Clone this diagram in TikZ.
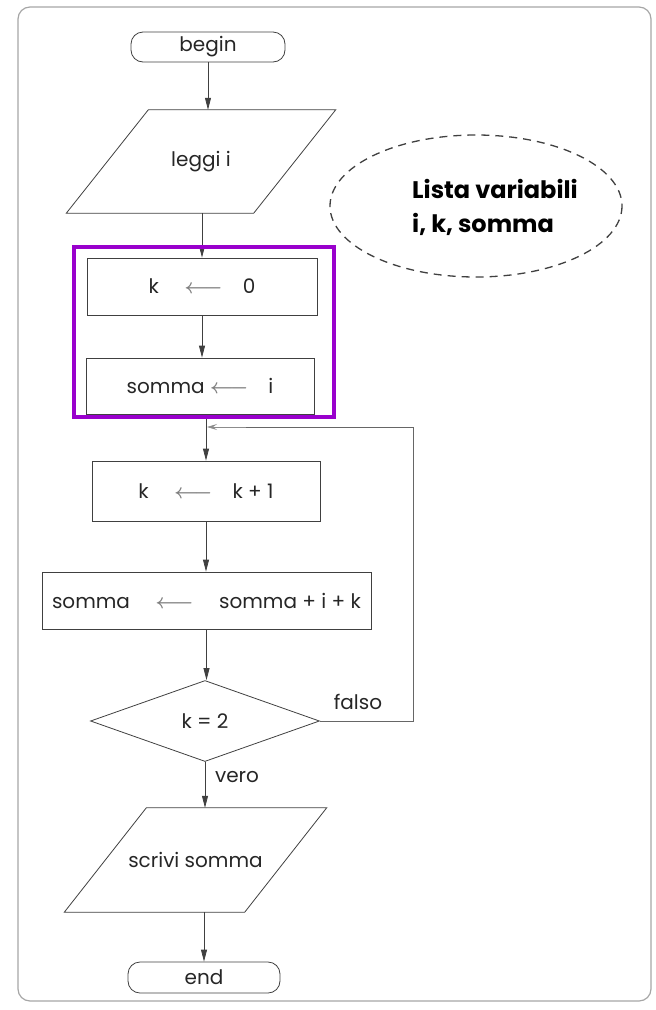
\documentclass[tikz,border=0pt]{standalone}
\usepackage{fontspec}
\setmainfont{Poppins}
\usetikzlibrary{shapes.geometric,arrows.meta}
\newcommand{\assegna}{\textcolor{black!50}{\boldmath$\longleftarrow$}}

\begin{document}
\begin{tikzpicture}%
	[x=1pt, y=-1pt,
	font=\fontsize{20}{24}\selectfont,
	frame/.style={draw=black!35, line width=1.2pt, rounded corners=12pt},
	terminal/.style={draw=black!75, line width=0.8pt, rounded corners=12pt, minimum width=154pt, minimum height=30pt, inner sep=0pt, text=black!85},
	io/.style={rectangle, minimum height=103pt, inner sep=0pt, text=black!85},
	iobox/.style={draw=black!75, line width=0.8pt},
	process/.style={draw=black!75, line width=0.8pt, rectangle, minimum height=57pt, inner sep=0pt, text=black!85},
	decision/.style={draw=black!75, line width=0.8pt, diamond, aspect=2.8, minimum width=229pt, minimum height=81pt, inner sep=0pt, text=black!85},
	lista/.style={inner sep=0pt, align=left, text=black, font=\bfseries\fontsize{24}{34}\selectfont},
	listabordo/.style={draw=black!75, line width=1.3pt, dash pattern=on 8pt off 6pt},
	evidenzia/.style={draw={rgb,255:red,153;green,0;blue,204}, line width=4pt},
	flow/.style={draw=black!75, line width=0.8pt, -{Triangle[length=12pt,width=6pt]}},
	back/.style={draw=black!60, line width=0.8pt},
	backtip/.style={-{Stealth[length=10pt,width=6pt,inset=4pt]}, draw=black!45},
	label/.style={text=black!85, inner sep=0pt}]
%
\useasboundingbox (0,0) rectangle (656,1010);
\draw[frame] (18,7) rectangle (651,1001);
%%
%% Drawing the blocks
%%
\node[terminal] (begin) at (208,47) {begin};
\node[io, minimum width=187pt] (leggi) at (201,161.5) {leggi i};
\node[lista] (lista) at (495,207) {Lista variabili\\i, k, somma};
\draw[listabordo] (476,206) ellipse [x radius=146, y radius=71];
\node[process, minimum width=230pt] (k0) at (202,286.5) {k \quad\assegna\quad 0};
\node[process, minimum width=228pt, minimum height=56pt] (sommai) at (200,386) {somma \assegna\quad i};
\node[process, minimum width=228pt, minimum height=60pt] (kk1) at (206,491) {k \quad\assegna\quad k + 1};
\node[process, minimum width=329pt] (sommak) at (206.5,600.5) {somma \quad\assegna\quad\ somma + i + k};
\node[decision] (test) at (205,721) {k = 2};
\node[io, minimum width=180pt, minimum height=104pt] (scrivi) at (195.5,860) {scrivi somma};
\node[terminal, minimum width=152pt, minimum height=31pt] (end) at (204,977.5) {end};
% slanted sides of the input/output blocks
\foreach \n in {leggi,scrivi}
	\draw[iobox] ([xshift=-41pt]\n.south west) -- ([xshift=41pt]\n.north west)
		-- ([xshift=41pt]\n.north east) -- ([xshift=-41pt]\n.south east) -- cycle;
%%
%% Labels of the test
%%
\node[label] (falso) at (358,702) {falso};
\node[label] (vero) at (237,777) {vero};
%%
%% Drawing the connectors
%%
\draw[flow] (begin.south) -- (begin.south |- leggi.north);
\draw[flow] (leggi.south -| k0.north) -- (k0.north);
\draw[flow] (k0.south) -- (k0.south |- sommai.north);
\draw[flow] (kk1.north |- sommai.south) -- (kk1.north);
\draw[flow] (kk1.south) -- (kk1.south |- sommak.north);
\draw[flow] (sommak.south) -- (sommak.south |- test.north);
\draw[flow] (test.south) -- (test.south |- scrivi.north);
\draw[flow] (scrivi.south -| end.north) -- (end.north);
%%
%% Loop back when the test is false
%%
\coordinate (ritorno) at (413,427);
\coordinate (ingresso) at (kk1.north |- ritorno);
\draw[back] (test.east) -| (ritorno) -- ([xshift=40pt]ingresso);
\draw[back, backtip] ([xshift=40pt]ingresso) -- ([xshift=1pt]ingresso);
%%
%% Highlight
%%
\draw[evidenzia] (74,247) rectangle (334,417);

\end{tikzpicture}
\end{document}
